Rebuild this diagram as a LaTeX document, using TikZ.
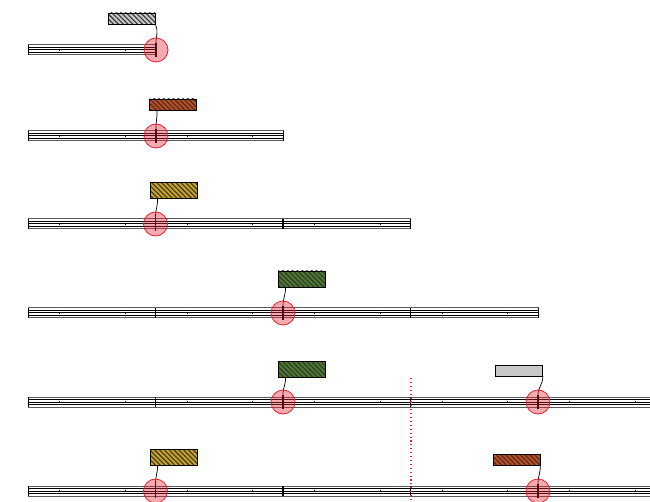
\documentclass[tikz,border=0pt]{standalone}
\usetikzlibrary{patterns.meta}
\definecolor{cgrey}{HTML}{C8C8C8}
\definecolor{corange}{HTML}{C44A1C}
\definecolor{cgold}{HTML}{C9A21E}
\definecolor{cgreen}{HTML}{4A7A2A}
\definecolor{hlred}{HTML}{E2202E}
\definecolor{barg}{HTML}{5A5A5A}
\tikzset{
  barouter/.style={draw=barg,line width=1pt},
  barinner/.style={draw=black,line width=0.65pt},
  barmid/.style={draw=black,line width=1pt},
  tickmark/.style={draw=black,line width=1pt},
  divider/.style={draw=black,line width=1.4pt},
  cursorline/.style={draw=black,line width=1.4pt},
  hl/.style={circle,minimum size=24pt,inner sep=0pt,draw=hlred,line width=0.8pt,fill=hlred,fill opacity=0.38},
  hatchbox/.style={rectangle,inner sep=0pt,minimum width=47pt,draw=black,line width=0.8pt,
     preaction={fill=#1},pattern={Lines[angle=-45,distance=3.4pt,line width=1.1pt]},pattern color=black!80},
  plainbox/.style={rectangle,inner sep=0pt,minimum width=47pt,draw=black,line width=0.8pt,fill=#1},
  conn/.style={draw=black,line width=0.7pt},
  guide/.style={draw=hlred,line width=1.1pt,dash pattern=on 1.1pt off 2.8pt}
}
\begin{document}
\begin{tikzpicture}[x=1pt,y=-1pt]
\useasboundingbox (0,0) rectangle (650,502);
% bars
\foreach \c/\n in {50/1,136/2,224/3,313/4,402/5,491/5}{
  \pgfmathsetmacro\xe{28+127.5*\n}
  \draw[barouter] (28,\c-5) rectangle (\xe,\c+5);
  \draw[barinner] (28,\c-2.4) -- (\xe,\c-2.4) (28,\c+2.4) -- (\xe,\c+2.4);
  \draw[barinner] (28,\c-5) -- (28,\c+5) (\xe,\c-5) -- (\xe,\c+5);
  \draw[barmid] (28,\c) -- (\xe,\c);
  \foreach \k in {1,...,\n}{
    \pgfmathsetmacro\xs{28+127.5*(\k-1)}
    \draw[tickmark] (\xs+31.5,\c-1.4) -- (\xs+31.5,\c+1.4) (\xs+97,\c-1.4) -- (\xs+97,\c+1.4);
    \ifnum\k>1 \draw[divider] (\xs,\c-5) -- (\xs,\c+5); \fi
  }
}
% guide line
\coordinate (g1) at (411,378);
\coordinate (g2) at (411,502);
\draw[guide] (g1) -- (g2);
% cursor tops
\coordinate (k1) at (156,43);
\coordinate (k2) at (156,129);
\coordinate (k3) at (155.5,217);
\coordinate (k4) at (283,306);
\coordinate (k5) at (283,395);
\coordinate (k6) at (538,395);
\coordinate (k7) at (155.5,484);
\coordinate (k8) at (538,484);
\foreach \k in {1,...,8}{ \draw[cursorline] (k\k) -- ++(0,14); }
% boxes
\node[hatchbox=cgrey,minimum height=11pt] (b1) at (131.5,18.5) {};
\node[hatchbox=corange,minimum height=11pt] (b2) at (173,104.5) {};
\node[hatchbox=cgold,minimum height=16.5pt] (b3) at (173.5,190.5) {};
\node[hatchbox=cgreen,minimum height=16pt] (b4) at (301.5,279) {};
\node[hatchbox=cgreen,minimum height=16pt] (b5) at (301.5,369) {};
\node[plainbox=cgrey,minimum height=11pt] (b6) at (519,370.5) {};
\node[hatchbox=cgold,minimum height=16pt] (b7) at (173.5,457) {};
\node[hatchbox=corange,minimum height=11pt] (b8) at (516.5,459.5) {};
% connectors
\draw[conn] (b1.south east) .. controls +(3,8) and +(0,-8) .. (k1);
\draw[conn] ([xshift=8pt]b2.south west) .. controls +(0,8) and +(0,-8) .. (k2);
\draw[conn] ([xshift=8pt]b3.south west) .. controls +(0,8) and +(0,-8) .. (k3);
\draw[conn] ([xshift=8pt]b4.south west) .. controls +(0,8) and +(0,-8) .. (k4);
\draw[conn] ([xshift=8pt]b5.south west) .. controls +(0,8) and +(0,-8) .. (k5);
\draw[conn] (b6.south east) .. controls +(0,8) and +(0,-8) .. (k6);
\draw[conn] ([xshift=8pt]b7.south west) .. controls +(0,8) and +(0,-8) .. (k7);
\draw[conn] (b8.south east) .. controls +(0,8) and +(0,-8) .. (k8);
% highlights
\node[hl] (h1) at (156,50) {};
\node[hl] (h2) at (156,136) {};
\node[hl] (h3) at (155.5,224) {};
\node[hl] (h4) at (283,313) {};
\node[hl] (h5) at (283,402) {};
\node[hl] (h6) at (538,402) {};
\node[hl] (h7) at (155.5,491) {};
\node[hl] (h8) at (538,491) {};
\end{tikzpicture}
\end{document}
